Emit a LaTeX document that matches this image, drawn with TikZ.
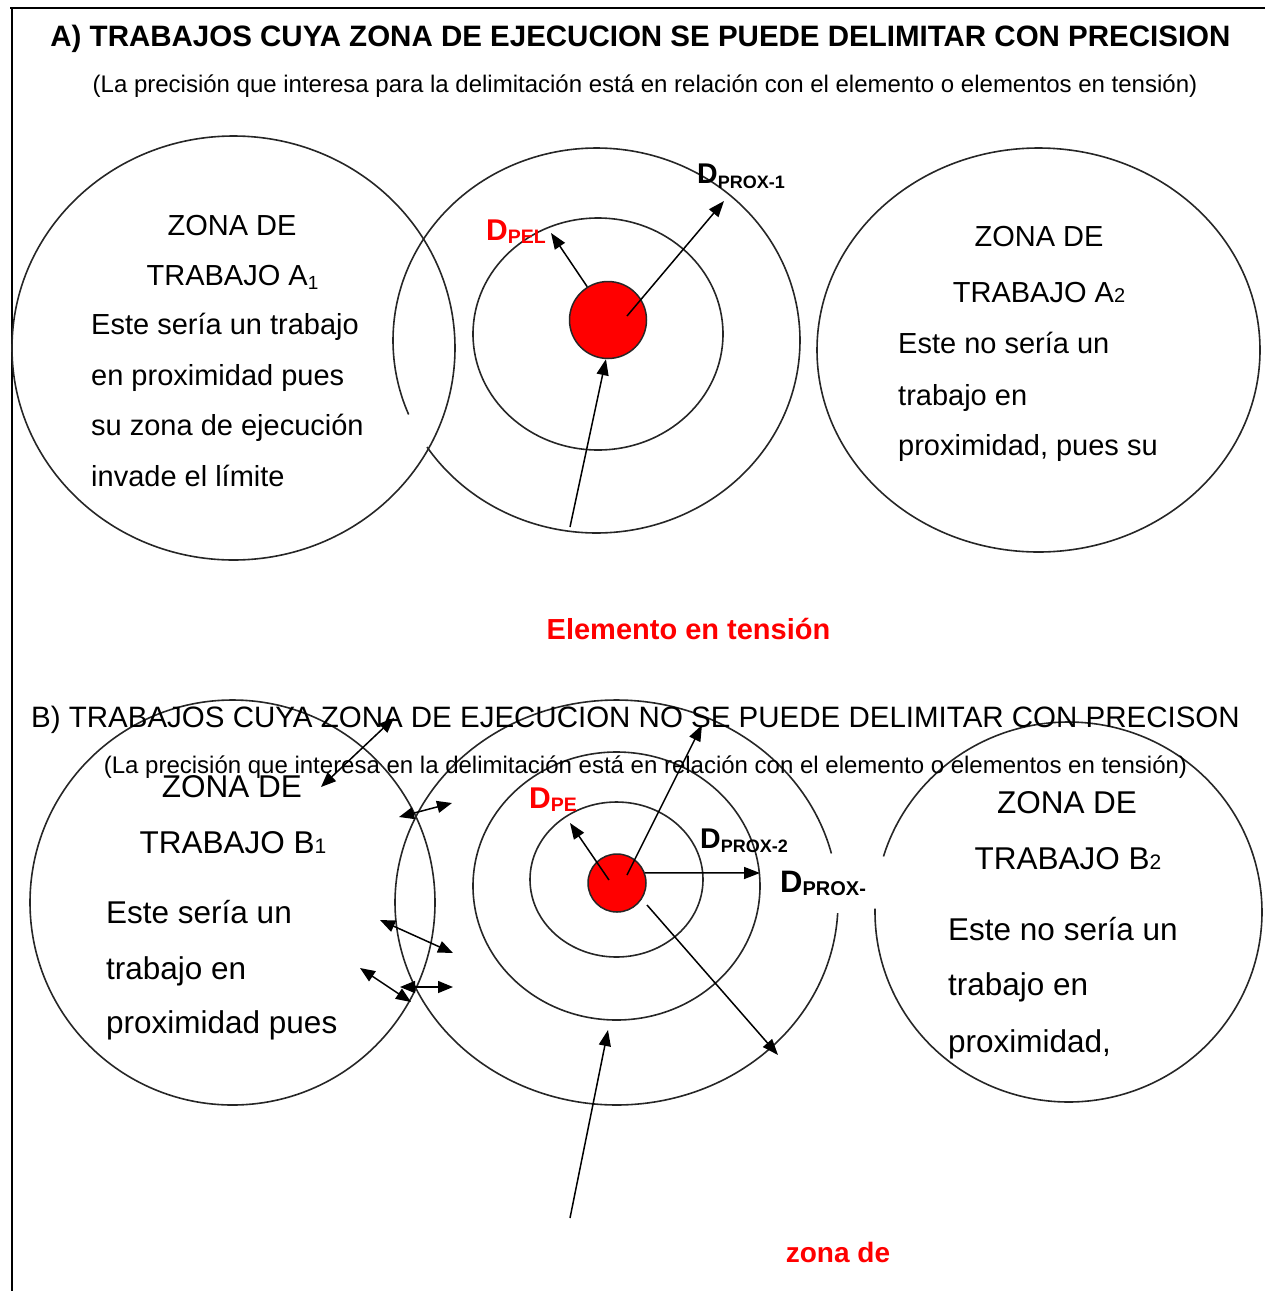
\documentclass[tikz,border=0pt]{standalone}
\usepackage{fontspec}
\setmainfont{Liberation Sans}
\usetikzlibrary{arrows.meta,shapes.geometric}
\begin{document}
\begin{tikzpicture}[x=1pt,y=-1pt,
  ring/.style={draw=black!85,line width=1.6pt},
  zone/.style={ellipse,draw=black!85,line width=1.6pt,inner sep=0pt},
  live/.style={circle,draw=black!85,line width=1.5pt,fill=red,inner sep=0pt},
  arr/.style={line width=1.5pt,-{Triangle[length=16pt,width=12pt]}},
  dbl/.style={line width=1.5pt,{Triangle[length=15pt,width=12pt]}-{Triangle[length=15pt,width=12pt]}},
  txa/.style={inner sep=0pt,anchor=base,font=\fontsize{29}{29}\selectfont},
  txal/.style={txa,anchor=base west},
  txb/.style={inner sep=0pt,anchor=base,font=\fontsize{31.5}{31.5}\selectfont},
  txbl/.style={txb,anchor=base west},
  lbl/.style={inner sep=0pt,anchor=base west,font=\bfseries}
]
\useasboundingbox (0,0) rectangle (1265,1291);
% frame
\draw[line width=2pt] (10,8) -- (1265,8);
\draw[line width=2pt] (12,8) -- (12,1291);

% ---------- A ----------
\node[inner sep=0pt,anchor=base,font=\bfseries\fontsize{29.5}{29.5}\selectfont] (titA) at (640.5,46) {A) TRABAJOS CUYA ZONA DE EJECUCION SE PUEDE DELIMITAR CON PRECISION};
\node[inner sep=0pt,anchor=base,font=\fontsize{24}{24}\selectfont] (subA) at (645,92) {(La precisión que interesa para la delimitación está en relación con el elemento o elementos en tensión)};

\node[zone,minimum width=443pt,minimum height=424pt] (zA1) at (233.5,348) {};
\node[zone,minimum width=443pt,minimum height=404pt] (zA2) at (1038.5,350) {};
\draw[ring] plot[domain=157.4:506.4,samples=240] ({596.5+203.5*cos(\x)},{340.5+192.5*sin(\x)});
\node[zone,minimum width=250pt,minimum height=232pt] (rA1) at (598,334) {};
\node[live,minimum size=77pt] (redA) at (608,320) {};

\coordinate (pel) at (551,233);
\coordinate (px1s) at (627,316);
\coordinate (px1) at (724,201);
\coordinate (baseA) at (570,527);
\draw[arr] (redA.122) -- (pel);
\draw[arr] (px1s) -- (px1);
\draw[arr] (baseA) -- (redA.267);

\node[lbl,text=red] (lpel) at (486,240) {\fontsize{30}{30}\selectfont D\raisebox{-3pt}{\fontsize{19.5}{19.5}\selectfont PEL}};
\node[lbl] (lpx1) at (697,183) {\fontsize{28.5}{28.5}\selectfont D\raisebox{-5pt}{\fontsize{18}{18}\selectfont PROX-1}};

\node[txa] (a1l1) at (232,235) {ZONA DE};
\node[txa] (a1l2) at (232.5,285) {TRABAJO A\raisebox{-4pt}{\fontsize{19}{19}\selectfont 1}};
\node[txal] (a1l3) at (91,334) {Este sería un trabajo};
\node[txal] (a1l4) at (91,385) {en proximidad pues};
\node[txal] (a1l5) at (91,435) {su zona de ejecución};
\node[txal] (a1l6) at (91,486) {invade el límite};

\node[txa] (a2l1) at (1039,246) {ZONA DE};
\node[txa] (a2l2) at (1039,302) {TRABAJO A{\fontsize{20}{20}\selectfont 2}};
\node[txal] (a2l3) at (898,353) {Este no sería un};
\node[txal] (a2l4) at (898,405) {trabajo en};
\node[txal] (a2l5) at (898,455) {proximidad, pues su};

\node[inner sep=0pt,anchor=base,font=\bfseries\fontsize{29}{29}\selectfont,text=red] (elem) at (688.5,639) {Elemento en tensión};

% ---------- B ----------
\node[zone,minimum width=405pt,minimum height=405pt] (zB1) at (232.5,902.5) {};
\draw[ring] plot[domain=197:541,samples=240] ({1068.5+193.5*cos(\x)},{912+190*sin(\x)});
\draw[ring] plot[domain=3:346,samples=240] ({616.5+221.5*cos(\x)},{902.5+202.5*sin(\x)});
\node[zone,minimum width=287pt,minimum height=268pt] (rB2) at (616.5,886) {};
\node[zone,minimum width=173pt,minimum height=155pt] (rB1) at (616.5,879.5) {};
\node[live,minimum size=58pt] (redB) at (617,883) {};

\node[inner sep=0pt,anchor=base,font=\fontsize{29.5}{29.5}\selectfont] (titB) at (635.5,727) {B) TRABAJOS CUYA ZONA DE EJECUCION NO SE PUEDE DELIMITAR CON PRECISON};
\node[inner sep=0pt,anchor=base,font=\fontsize{24}{24}\selectfont] (subB) at (645.5,773) {(La precisión que interesa en la delimitación está en relación con el elemento o elementos en tensión)};

\coordinate (bs1) at (609,880);
\coordinate (dpe) at (570,823);
\coordinate (bs2) at (627,875);
\coordinate (bup) at (702,725);
\coordinate (bpx2) at (760,873);
\coordinate (bs4) at (647,905);
\coordinate (bdr) at (778,1055);
\coordinate (bbase) at (570,1218);
\coordinate (bin) at (608,1030);
\draw[arr] (bs1) -- (dpe);
\draw[arr] (bs2) -- (bup);
\draw[arr] (redB.20) -- (bpx2);
\draw[arr] (bs4) -- (bdr);
\draw[arr] (bbase) -- (bin);

\coordinate (d1a) at (321,787); \coordinate (d1b) at (394,718);
\coordinate (d2a) at (399,817); \coordinate (d2b) at (452,803);
\coordinate (d3a) at (380,920); \coordinate (d3b) at (453,953);
\coordinate (d4a) at (360,968); \coordinate (d4b) at (411,1002);
\coordinate (d5a) at (400,987); \coordinate (d5b) at (453,987);
\draw[dbl] (d1a) -- (d1b);
\draw[dbl] (d2a) -- (d2b);
\draw[dbl] (d3a) -- (d3b);
\draw[dbl] (d4a) -- (d4b);
\draw[dbl] (d5a) -- (d5b);

\node[lbl,text=red] (lpe) at (529,808) {\fontsize{30}{30}\selectfont D\raisebox{-3pt}{\fontsize{19.5}{19.5}\selectfont PE}};
\node[lbl] (lpx2) at (700,848) {\fontsize{28.5}{28.5}\selectfont D\raisebox{-4pt}{\fontsize{18}{18}\selectfont PROX-2}};
\node[lbl] (lpx) at (780,892) {\fontsize{31}{31}\selectfont D\raisebox{-3pt}{\fontsize{20}{20}\selectfont PROX-}};

\node[txb] (b1l1) at (232,797) {ZONA DE};
\node[txb] (b1l2) at (233,853) {TRABAJO B{\fontsize{21}{21}\selectfont 1}};
\node[txbl] (b1l3) at (106,923) {Este sería un};
\node[txbl] (b1l4) at (106,979) {trabajo en};
\node[txbl] (b1l5) at (106,1033) {proximidad pues};

\node[txb] (b2l1) at (1067,813) {ZONA DE};
\node[txb] (b2l2) at (1068,869) {TRABAJO B{\fontsize{21}{21}\selectfont 2}};
\node[txbl] (b2l3) at (948,940) {Este no sería un};
\node[txbl] (b2l4) at (948,995) {trabajo en};
\node[txbl] (b2l5) at (948,1052) {proximidad,};

\node[inner sep=0pt,anchor=base,font=\bfseries\fontsize{28}{28}\selectfont,text=red] (zde) at (838,1262) {zona de};
\end{tikzpicture}
\end{document}
